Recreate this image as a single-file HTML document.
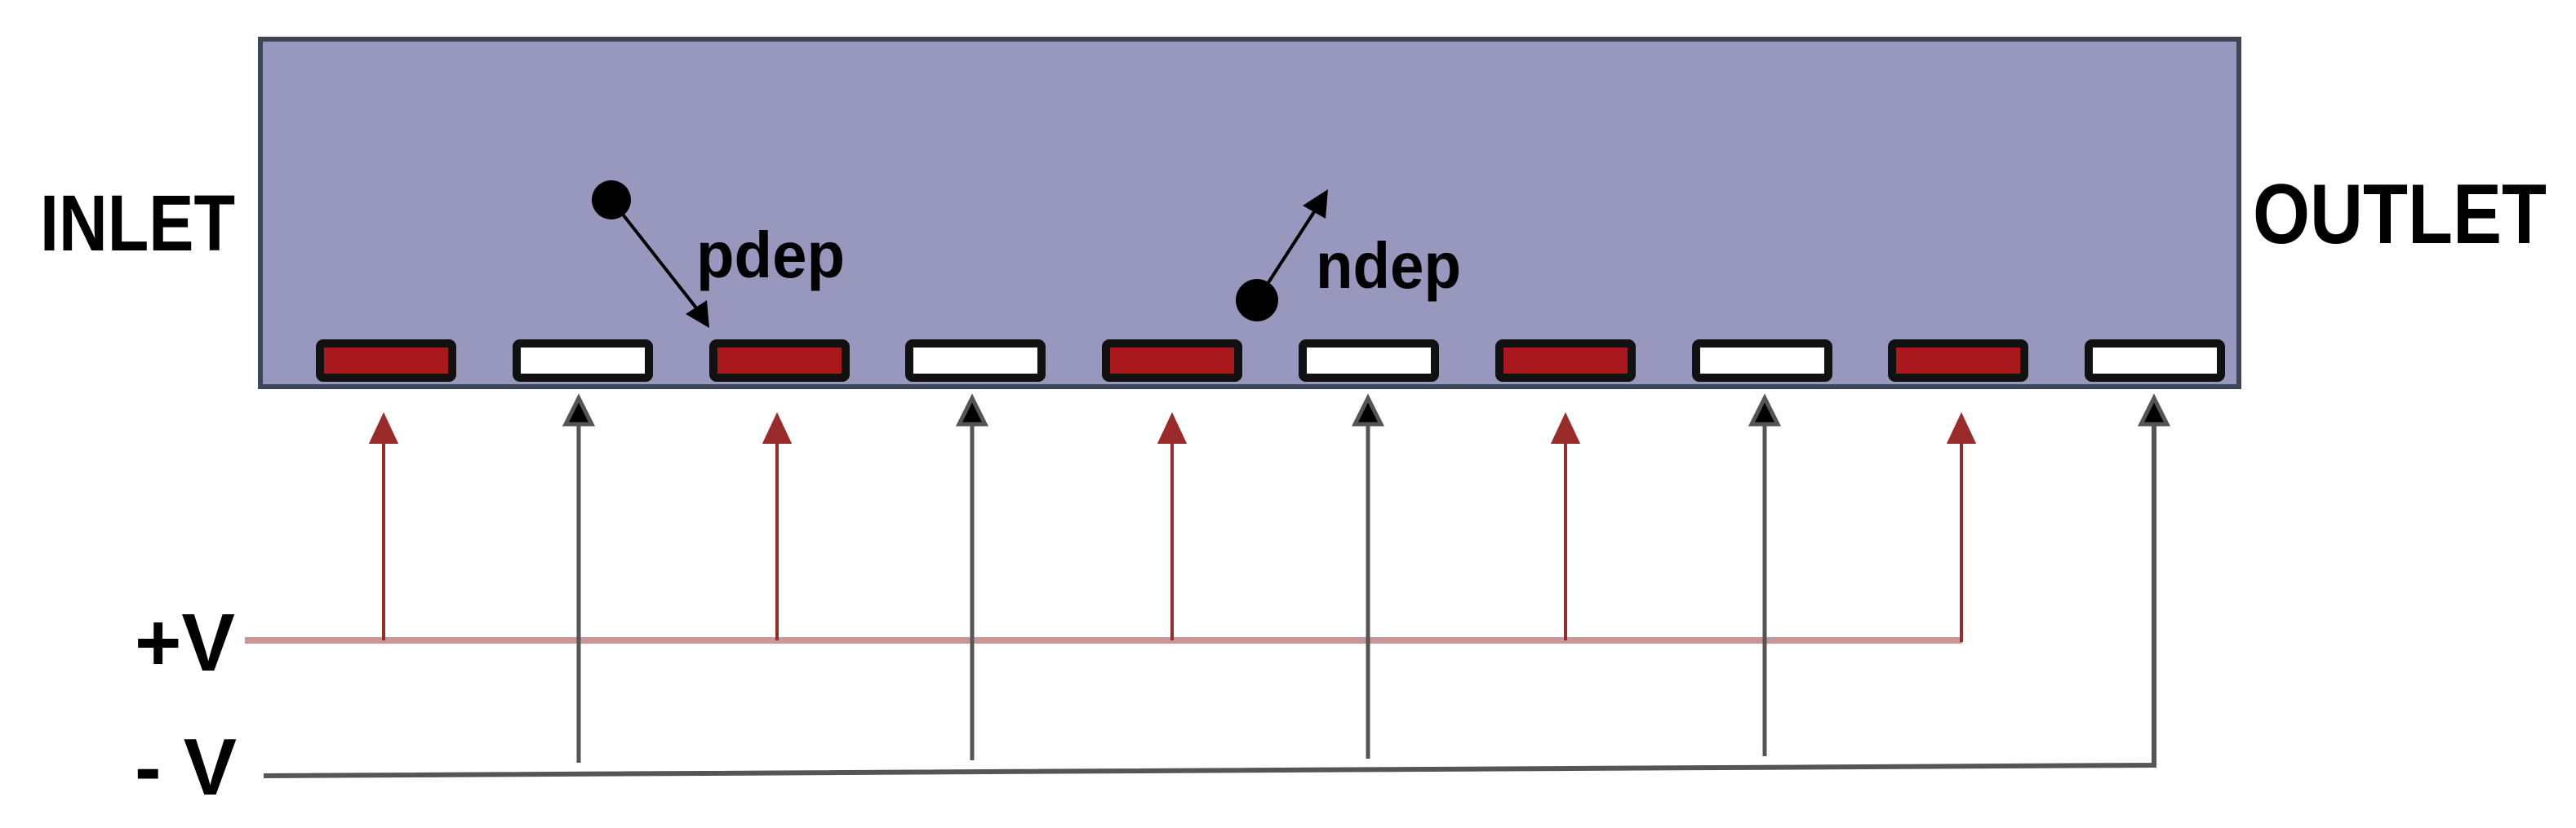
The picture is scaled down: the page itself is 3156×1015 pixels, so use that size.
<!DOCTYPE html>
<html><head><meta charset="utf-8"><style>html,body{margin:0;padding:0;background:#fff}svg{display:block}</style></head>
<body>
<svg width="3156" height="1015" viewBox="0 0 3156 1015" xmlns="http://www.w3.org/2000/svg" font-family="Liberation Sans, sans-serif" font-weight="bold">
<rect x="319" y="48" width="2424" height="426" fill="#9898be" stroke="#3d4656" stroke-width="6"/>
<g stroke="#111" stroke-width="10">
<rect x="392" y="421" width="162" height="42" rx="4" fill="#a8181c"/>
<rect x="633" y="421" width="162" height="42" rx="4" fill="#fff"/>
<rect x="874" y="421" width="162" height="42" rx="4" fill="#a8181c"/>
<rect x="1114" y="421" width="162" height="42" rx="4" fill="#fff"/>
<rect x="1355" y="421" width="162" height="42" rx="4" fill="#a8181c"/>
<rect x="1596" y="421" width="162" height="42" rx="4" fill="#fff"/>
<rect x="1837" y="421" width="162" height="42" rx="4" fill="#a8181c"/>
<rect x="2078" y="421" width="162" height="42" rx="4" fill="#fff"/>
<rect x="2318" y="421" width="162" height="42" rx="4" fill="#a8181c"/>
<rect x="2559" y="421" width="162" height="42" rx="4" fill="#fff"/>
</g>
<!-- +V line -->
<line x1="300" y1="785" x2="2404" y2="785" stroke="#c89898" stroke-width="8"/>
<g stroke="#9b2a2a" stroke-width="4" fill="#9b2a2a">
<line x1="470" y1="785" x2="470" y2="535"/><path d="M455,542 L470,510 L485,542z"/>
<line x1="952" y1="785" x2="952" y2="535"/><path d="M937,542 L952,510 L967,542z"/>
<line x1="1436" y1="785" x2="1436" y2="535"/><path d="M1421,542 L1436,510 L1451,542z"/>
<line x1="1918" y1="785" x2="1918" y2="535"/><path d="M1903,542 L1918,510 L1933,542z"/>
<line x1="2403" y1="787" x2="2403" y2="535"/><path d="M2388,542 L2403,510 L2418,542z"/>
</g>
<!-- -V line -->
<polyline points="323,951 2639,938 2639,510" fill="none" stroke="#555" stroke-width="6"/>
<g stroke="#555" stroke-width="5" fill="#000">
<line x1="709" y1="935" x2="709" y2="510"/><path d="M693,520 L709,488 L725,520z"/>
<line x1="1191" y1="932" x2="1191" y2="510"/><path d="M1175,520 L1191,488 L1207,520z"/>
<line x1="1676" y1="930" x2="1676" y2="510"/><path d="M1660,520 L1676,488 L1692,520z"/>
<line x1="2162" y1="927" x2="2162" y2="510"/><path d="M2146,520 L2162,488 L2178,520z"/>
<path d="M2623,520 L2639,488 L2655,520z"/>
</g>
<!-- particles -->
<circle cx="749" cy="245" r="24" fill="#000"/>
<line x1="749" y1="245" x2="855" y2="380" stroke="#000" stroke-width="4"/>
<path d="M840,385 L869,402 L866,368z" fill="#000"/>
<circle cx="1540" cy="368" r="26" fill="#000"/>
<line x1="1540" y1="368" x2="1615" y2="252" stroke="#000" stroke-width="4"/>
<path d="M1596,252 L1627,232 L1624,268z" fill="#000"/>
<text x="853" y="340" font-size="80" textLength="182" lengthAdjust="spacingAndGlyphs">pdep</text>
<text x="1612" y="353" font-size="80" textLength="178" lengthAdjust="spacingAndGlyphs">ndep</text>
<text x="49" y="307" font-size="97" textLength="239" lengthAdjust="spacingAndGlyphs">INLET</text>
<text x="2760" y="298" font-size="104" textLength="360" lengthAdjust="spacingAndGlyphs">OUTLET</text>
<text x="165" y="822" font-size="100" textLength="123" lengthAdjust="spacingAndGlyphs">+V</text>
<text x="165" y="974" font-size="98" textLength="125" lengthAdjust="spacingAndGlyphs">- V</text>
</svg>
</body></html>
